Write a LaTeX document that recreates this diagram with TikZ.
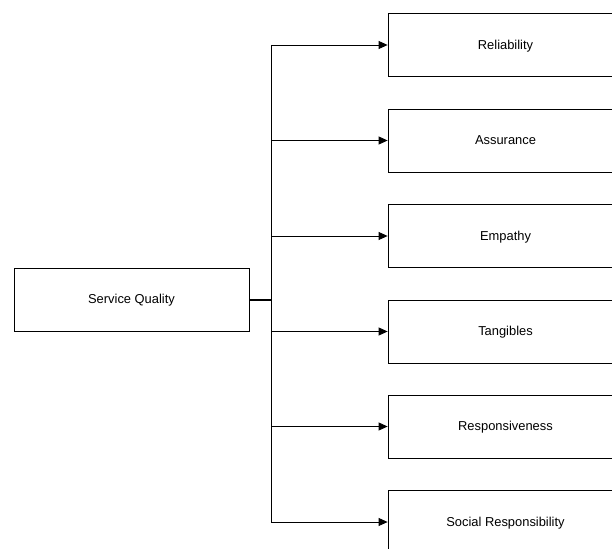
\documentclass[tikz,border=0pt]{standalone}
\usepackage{fontspec}
\setmainfont{Liberation Sans}
\usetikzlibrary{arrows.meta}
\begin{document}
\begin{tikzpicture}[x=1pt,y=-1pt,
  dimbox/.style={draw,line width=0.8pt,minimum width=235pt,minimum height=63pt,inner sep=0pt,text depth=0.25ex,font=\fontsize{12.9}{15}\selectfont},
  branch/.style={line width=0.8pt,-{Triangle[length=9pt,width=8pt]}}]
\clip (0,0) rectangle (612,548);

% Source box
\node[dimbox] (sq) at (131.5,299.5) {Service Quality};
\coordinate (hub) at (271,299.5);
\draw[line width=2pt] (sq.east) -- (hub);

% Dimension boxes with arrows from the trunk
\foreach \name/\txt/\yy in {rel/Reliability/45,ass/Assurance/140.5,emp/Empathy/236,tan/Tangibles/331.5,res/Responsiveness/426.5,soc/Social Responsibility/522}{
  \node[dimbox] (\name) at (505.5,\yy) {\txt};
  \draw[branch] (hub |- \name.west) -- (\name.west);
}

% Trunk
\draw[line width=0.8pt] (hub |- rel.west) -- (hub |- soc.west);
\end{tikzpicture}
\end{document}
